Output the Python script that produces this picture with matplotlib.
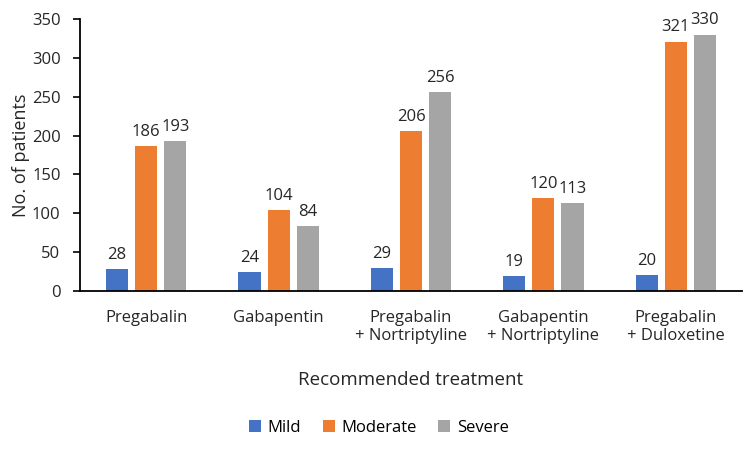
import matplotlib
matplotlib.use("Agg")
import matplotlib.pyplot as plt
import numpy as np

plt.rcParams['font.family'] = ['Open Sans', 'DejaVu Sans']

categories = ["Pregabalin", "Gabapentin", "Pregabalin\n+ Nortriptyline",
              "Gabapentin\n+ Nortriptyline", "Pregabalin\n+ Duloxetine"]
mild = [28, 24, 29, 19, 20]
moderate = [186, 104, 206, 120, 321]
severe = [193, 84, 256, 113, 330]
series = [("Mild", mild, "#4472C4"), ("Moderate", moderate, "#ED7D31"), ("Severe", severe, "#A5A5A5")]

fig = plt.figure(figsize=(7.5, 4.51), dpi=100)
ax = fig.add_axes([80/750, 1-291/451, 662/750, 272/451])

x = np.arange(len(categories))
w = 0.167
pitch = 0.22
for i, (name, vals, col) in enumerate(series):
    pos = x + (i-1)*pitch
    bars = ax.bar(pos, vals, width=w, color=col, label=name)
    for p, v in zip(pos, vals):
        ax.text(p, v + 8, str(v), ha='center', va='bottom', fontsize=12, color='#262626')

ax.set_xlim(-0.5, len(categories)-0.5)
ax.set_ylim(0, 350)
ax.set_yticks(np.arange(0, 351, 50))
ax.set_xticks(x)
ax.set_xticklabels(categories, fontsize=12, color='#262626', linespacing=1.1)
ax.tick_params(axis='x', length=0, pad=14)
ax.tick_params(axis='y', labelsize=12, labelcolor='#262626', length=5, width=1.2, direction='out', pad=9)
for s in ['top', 'right']:
    ax.spines[s].set_visible(False)
ax.spines['left'].set_linewidth(1.3)
ax.spines['bottom'].set_linewidth(1.3)
ax.set_ylabel("No. of patients", fontsize=13, color='#262626', labelpad=1)
ax.set_xlabel("Recommended treatment", fontsize=13.5, color='#262626', labelpad=20)

ax.legend(loc='center', bbox_to_anchor=(379/750, 1-428/451), bbox_transform=fig.transFigure,
          ncol=3, frameon=False, fontsize=12, handlelength=0.7, handleheight=0.7,
          handletextpad=0.4, columnspacing=1.3)

fig.savefig("out.png", dpi=100)
